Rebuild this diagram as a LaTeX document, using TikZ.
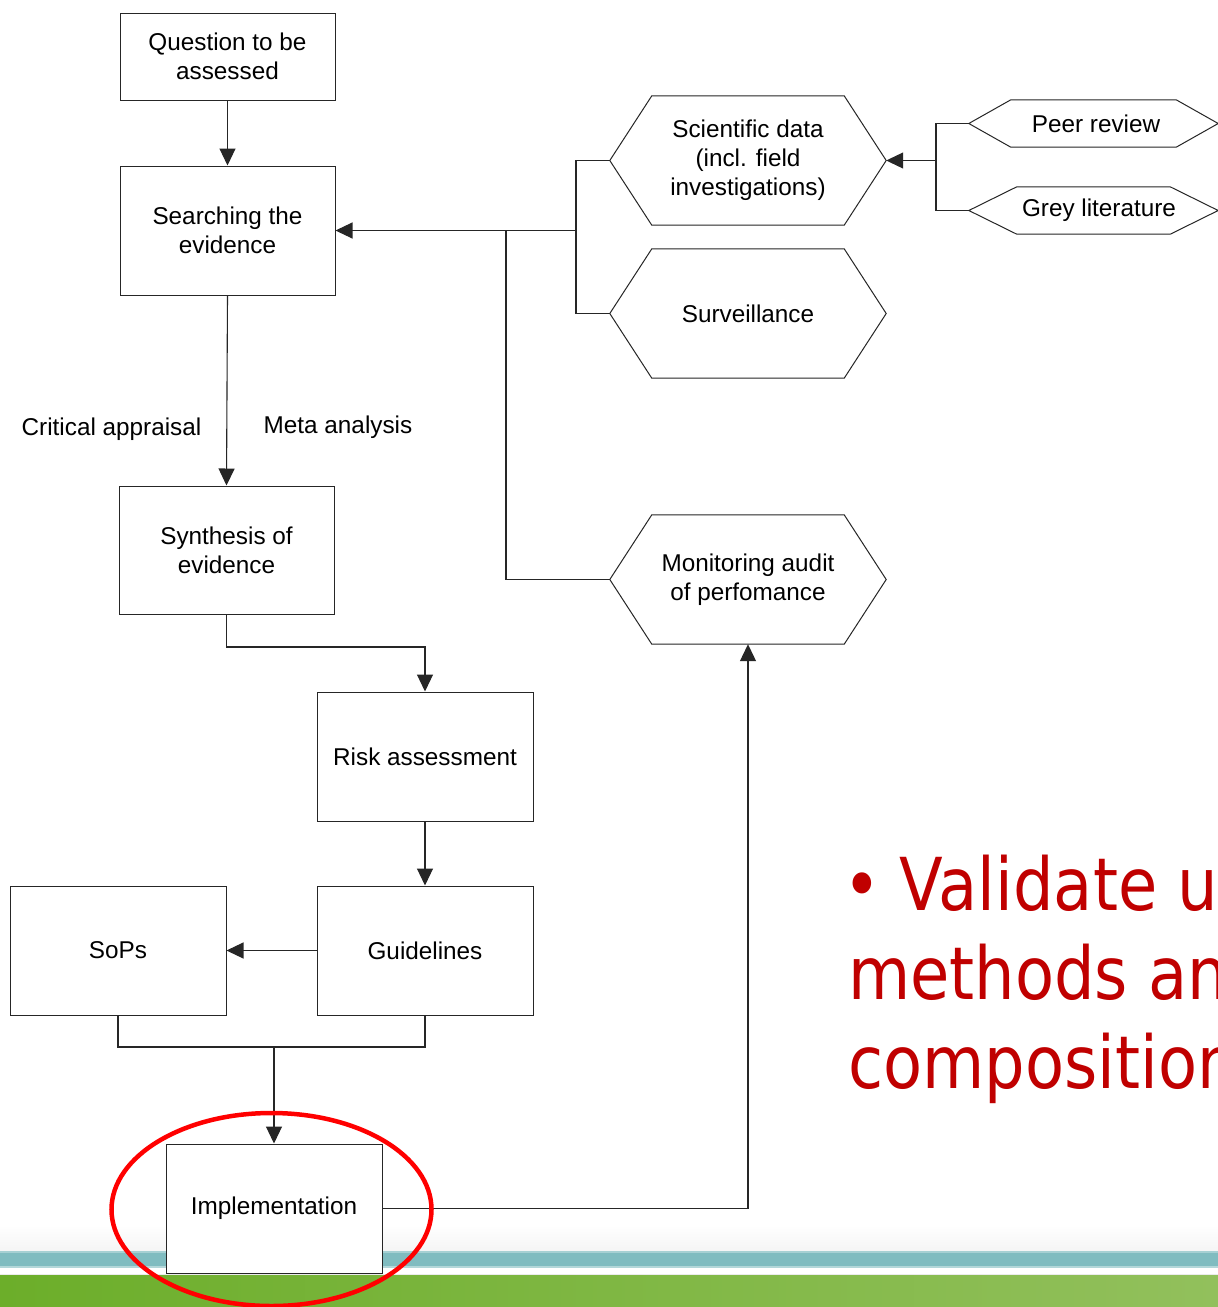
\documentclass[tikz,border=0pt]{standalone}
\usepackage{fontspec}
\setmainfont{Liberation Sans}
\newfontfamily\redfont[FakeStretch=0.875]{DejaVu Sans}
\usetikzlibrary{arrows.meta,calc}
\definecolor{teal1}{HTML}{80BCC0}
\definecolor{greenL}{HTML}{6CAE2A}
\definecolor{greenR}{HTML}{92C05C}
\definecolor{redtxt}{HTML}{C00000}
\newcommand\hexdraw[2]{\draw[hexline] (#1.west) -- ([xshift=#2]#1.north west) -- ([xshift=-#2]#1.north east) -- (#1.east) -- ([xshift=-#2]#1.south east) -- ([xshift=#2]#1.south west) -- cycle;}
\begin{document}
\begin{tikzpicture}[x=1pt,y=-1pt,
  txt/.style={font=\fontsize{24.3}{29}\selectfont, align=center, inner sep=0pt},
  box/.style={txt, draw=black!85, fill=white, line width=1pt, minimum width=216pt, minimum height=129pt},
  hexn/.style={txt, minimum width=276pt, minimum height=129pt},
  hexline/.style={draw=black!85, fill=white, line width=1pt},
  conn/.style={draw=black!85, line width=1.1pt},
  arr/.style={conn, -{Triangle[length=17pt,width=16pt]}},
  redline/.style={text=redtxt, font=\redfont\fontsize{73}{89}\selectfont, inner sep=0pt, anchor=base west}
]
\useasboundingbox (0,0) rectangle (1218,1307);
\clip (0,0) rectangle (1218,1307);
% background stripes
\fill[white] (0,0) rectangle (1218,1307);
\shade[top color=white, bottom color=black!4] (0,1225) rectangle (1218,1251);
\fill[teal1!70!white] (0,1251) rectangle (1218,1253);
\fill[teal1] (0,1253) rectangle (1218,1266);
\fill[teal1!60!white] (0,1266) rectangle (1218,1268);
\fill[black!8] (0,1273.5) rectangle (1218,1275);
\shade[left color=greenL, right color=greenR] (0,1275) rectangle (1218,1307);

% boxes
\node[box, minimum width=215pt, minimum height=87pt] (q) at (227.5,56.5) {Question to be\\assessed};
\node[box, minimum width=215pt] (search) at (227.5,230.5) {Searching the\\evidence};
\node[box, minimum width=215pt, minimum height=128pt] (synth) at (226.5,550) {Synthesis of\\evidence};
\node[box] (risk) at (425,756.5) {Risk assessment};
\node[box] (guide) at (425,950.5) {Guidelines};
\node[box] (sops) at (118,950.5) {SoPs};
\node[box] (impl) at (274,1208.5) {Implementation};

% hexagons
\node[hexn] (sci) at (748,160.5) {};
\hexdraw{sci}{42pt}
\node[txt] (scit) at (sci) {Scientific data\\(incl. field\\investigations)};
\node[hexn] (surv) at (748,313.5) {};
\hexdraw{surv}{42pt}
\node[txt] (survt) at (surv) {Surveillance};
\node[hexn] (mon) at (748,579.5) {};
\hexdraw{mon}{42pt}
\node[txt] (mont) at (mon) {Monitoring audit\\of perfomance};
\node[txt, minimum width=249pt, minimum height=47pt] (peer) at (1093.5,123.5) {};
\hexdraw{peer}{42pt}
\node[txt] (peert) at (1096,123.5) {Peer review};
\node[txt, minimum width=249pt, minimum height=47pt] (grey) at (1093.5,210.5) {};
\hexdraw{grey}{48pt}
\node[txt] (greyt) at (1099,210.5) {Grey literature};

% labels
\node[txt] (ca) at (111.5,429) {Critical appraisal};
\node[txt] (ma) at (338,427) {Meta analysis};

% junction coordinates
\coordinate (j1) at (226.5,647);
\coordinate (jb) at (274,1047);
\coordinate (jm) at (506,230.5);
\coordinate (jx) at (576,230.5);
\coordinate (jp) at (936,160.5);

% connectors
\draw[arr] (q.south) -- (search.north);
\draw[arr] (search.south) -- (synth.north);
\draw[arr] (synth.south) -- (j1) -| (risk.north);
\draw[arr] (risk.south) -- (guide.north);
\draw[arr] (guide.west) -- (sops.east);
\draw[conn] (sops.south) |- (jb) -| (guide.south);
\draw[arr] (jb) -- (impl.north);
\draw[arr] (impl.east) -| (mon.south);
\draw[arr] (mon.west) -| (jm) -- (search.east);
\draw[conn] (jm) -- (jx);
\draw[conn] (sci.west) -| (jx);
\draw[conn] (surv.west) -| (jx);
\draw[conn] (peer.west) -| (jp);
\draw[conn] (grey.west) -| (jp);
\draw[arr] (jp) -- (sci.east);

% red text
\node[redline] (r1) at (843,910) {\textbullet\kern19pt Validate used};
\node[redline] (r2) at (848,999) {methods and};
\node[redline] (r3) at (848,1088) {composition};

% red ellipse
\draw[red, line width=4.5pt] (271.5,1209.5) ellipse [x radius=160pt, y radius=96.5pt];
\end{tikzpicture}
\end{document}
